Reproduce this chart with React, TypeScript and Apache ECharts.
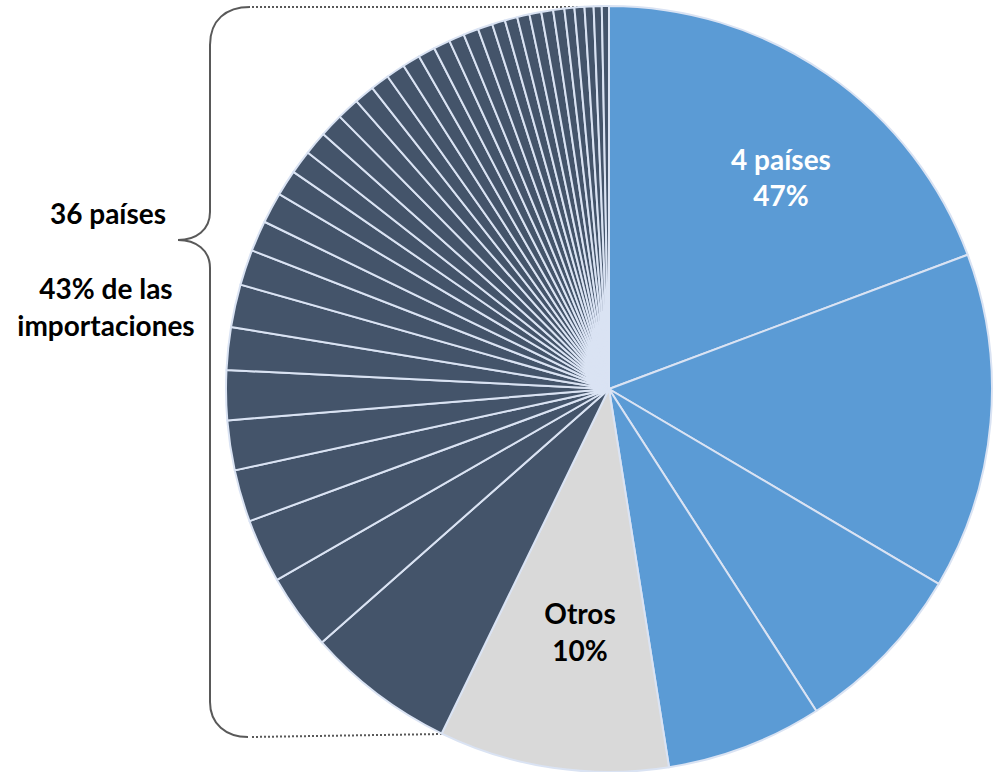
import React, { useEffect, useRef } from "react";
import * as echarts from "echarts";

const blueNames = ["País 1", "País 2", "País 3", "País 4"];
const blueValues = [19.3, 14.2, 7.4, 6.6];
const otrosName = "Otros";
const otrosValue = 9.7;
const darkValues = [
  6.3, 3.2, 2.7, 2.2, 2.1, 2.1, 1.8, 1.8, 1.5, 1.3, 1.3, 1.1, 1.0, 1.0, 1.0, 0.95,
  0.85, 0.8, 0.8, 0.75, 0.72, 0.7, 0.65, 0.64, 0.62, 0.55, 0.53, 0.52, 0.5, 0.5,
  0.47, 0.42, 0.42, 0.38, 0.34, 0.3,
];
const darkNames = darkValues.map((_, i) => `País ${i + 5}`);

const labelTop = ["4 países", "47%"];
const labelOtros = ["Otros", "10%"];
const labelLeft = ["36 países", "43% de las", "importaciones"];

const BLUE = "#5b9bd5";
const DARK = "#44546a";
const GRAY = "#d9d9d9";
const BORDER = "#dae3f3";
const FONT = "Lato, Carlito, Calibri, sans-serif";

echarts.graphic.registerShape(
  "brace",
  echarts.graphic.extendPath(
    "M 250 7 C 226 7 210 20 210 45 L 210 212 C 210 230 196 240 178 240 C 196 240 210 250 210 268 L 210 702 C 210 724 226 737 248 737",
    {}
  )
);

export default function App() {
  const ref = useRef<HTMLDivElement>(null);
  useEffect(() => {
    if (!ref.current) return;
    const chart = echarts.init(ref.current, null, { renderer: "svg" });
    const data = [
      ...blueValues.map((v, i) => ({ name: blueNames[i], value: v, itemStyle: { color: BLUE } })),
      { name: otrosName, value: otrosValue, itemStyle: { color: GRAY } },
      ...darkValues.map((v, i) => ({ name: darkNames[i], value: v, itemStyle: { color: DARK } })),
    ];
    const textStyle = (x: number, y: number, text: string, fill: string) => ({
      type: "text",
      x,
      y,
      style: {
        text,
        fill,
        font: `bold 28px ${FONT}`,
        textAlign: "center",
        textVerticalAlign: "middle",
      },
      z: 100,
    });
    chart.setOption({
      animation: false,
      backgroundColor: "#ffffff",
      series: [
        {
          type: "pie",
          center: [609, 389],
          radius: [0, 383],
          startAngle: 90,
          clockwise: true,
          avoidLabelOverlap: false,
          label: { show: false },
          labelLine: { show: false },
          emphasis: { disabled: true },
          itemStyle: { borderColor: BORDER, borderWidth: 2 },
          data,
        },
      ],
      graphic: [
        {
          type: "brace",
          x: 0,
          y: 0,
          style: { fill: "none", stroke: "#595959", lineWidth: 2 },
        },
        {
          type: "line",
          shape: { x1: 252, y1: 7, x2: 612, y2: 7 },
          style: { stroke: "#595959", lineWidth: 2, lineDash: [2, 2] },
        },
        {
          type: "line",
          shape: { x1: 252, y1: 737, x2: 442, y2: 734 },
          style: { stroke: "#595959", lineWidth: 2, lineDash: [2, 2] },
        },
        textStyle(781, 159, labelTop[0], "#ffffff"),
        textStyle(781, 195, labelTop[1], "#ffffff"),
        textStyle(580, 613, labelOtros[0], "#000000"),
        textStyle(580, 650, labelOtros[1], "#000000"),
        textStyle(108, 213, labelLeft[0], "#000000"),
        textStyle(106, 288, labelLeft[1], "#000000"),
        textStyle(106, 325, labelLeft[2], "#000000"),
      ],
    });
    return () => chart.dispose();
  }, []);
  return (
    <div
      ref={ref}
      style={{ position: "fixed", left: 0, top: 0, width: 996, height: 772, background: "#fff" }}
    />
  );
}
